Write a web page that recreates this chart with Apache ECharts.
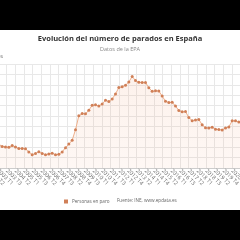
<!DOCTYPE html>
<html><head><meta charset="utf-8">
<script src="https://cdn.jsdelivr.net/npm/echarts@6/dist/echarts.min.js"></script>
<style>
html,body{margin:0;padding:0;background:#000;width:240px;height:240px;overflow:hidden;position:relative}
#frame{position:absolute;left:0;top:30px;width:240px;height:180px;background:#fff;overflow:hidden}
#c{position:absolute;left:-60px;top:0;width:360px;height:180px}
</style></head>
<body><div id="frame"><div id="c"></div></div>
<script>
const titleText = 'Evolución del número de parados en España';
const subtitleText = 'Datos de la EPA';
const yAxisName = 'Miles';
const legendName = 'Personas en paro';
const sourceText = 'Fuente: INE, www.epdata.es';
const years = [2002,2003,2004,2005,2006,2007,2008,2009,2010,2011,2012,2013,2014,2015,2016,2017,2018,2019,2020,2021];
const quarters = ['T1','T2','T3','T4'];
const categories = [];
years.forEach(y => quarters.forEach(q => categories.push(y + q)));
// Personas en paro (miles)
const parados = [
 2153,2103,2196,2232,
 2328,2243,2216,2193,
 2293,2205,2123,2130,
 2105,1930,1765,1841,
 1935,1837,1765,1810,
 1856,1760,1791,1927,
 2174,2381,2599,3208,
 4011,4138,4124,4335,
 4617,4646,4575,4697,
 4910,4834,4978,5274,
 5640,5693,5778,5965,
 6278,6047,5943,5936,
 5934,5623,5428,5458,
 5444,5149,4851,4780,
 4791,4575,4320,4238,
 4255,3914,3731,3766,
 3797,3490,3326,3304,
 3354,3231,3214,3191,
 3313,3368,3722,3720,
 3654,3543,3417,3103
];
const seriesData = parados.map((v,i) => [i, v]);

const chart = echarts.init(document.getElementById('c'), null, {renderer:'canvas'});
chart.setOption({
  animation:false,
  backgroundColor:'#fff',
  textStyle:{fontFamily:'Open Sans'},
  title:{
    text:titleText, subtext:subtitleText, left:'center', top:0, itemGap:3,
    textStyle:{fontSize:7.5, fontWeight:'bold', color:'#333', fontFamily:'Open Sans'},
    subtextStyle:{fontSize:5.5, color:'#888', fontFamily:'Open Sans'}
  },
  legend:{
    data:[legendName], left:124, top:169, padding:0, itemWidth:4, itemHeight:4, icon:'rect', itemGap:3,
    textStyle:{fontSize:4.6, color:'#666', fontFamily:'Open Sans', padding:[0,0,0,-1]}
  },
  graphic:[
    {type:'text', left:177, top:168.5, style:{text:sourceText, fontSize:4.6, fill:'#666', fontFamily:'Open Sans'}},
    {type:'text', right:360-63, top:24, style:{text:yAxisName, fontSize:5, fill:'#666', fontFamily:'Open Sans', align:'right'}}
  ],
  grid:{left:32, width:300, top:34, height:104},
  xAxis:{
    type:'value', min:-4.05, max:85.95, interval:2.6,
    axisLine:{show:true, lineStyle:{color:'#ccc'}},
    axisTick:{show:false},
    splitLine:{show:true, lineStyle:{color:'#e8e8e8', width:1}},
    axisLabel:{
      rotate:-45, fontSize:5.5, color:'#666', margin:2,
      formatter:function(v){
        const i = Math.round(v);
        if (i < 0 || i >= categories.length) return '';
        const c = categories[i];
        return c.slice(0,4) + ' ' + c.slice(4) + ' ';
      }
    }
  },
  yAxis:{
    type:'value', min:1000, max:7000, interval:600,
    axisLine:{show:false}, axisTick:{show:false},
    splitLine:{show:true, lineStyle:{color:'#e8e8e8', width:1}},
    axisLabel:{fontSize:5, color:'#666'}
  },
  series:[{
    name:legendName, type:'line', data:seriesData,
    symbol:'circle', symbolSize:3, showSymbol:true,
    lineStyle:{color:'#eeb08c', width:1},
    itemStyle:{color:'#d08058'},
    areaStyle:{color:new echarts.graphic.LinearGradient(0,0,0,1,[
      {offset:0, color:'rgba(240,150,105,0.18)'},
      {offset:1, color:'rgba(240,150,105,0.10)'}])}
  }]
});
</script></body></html>
